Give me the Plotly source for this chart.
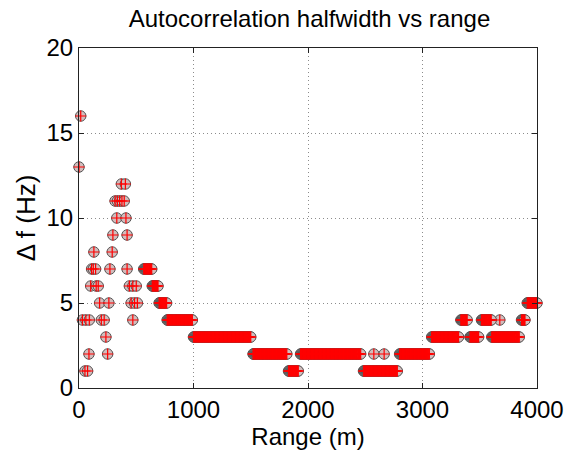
import numpy as np
import plotly.graph_objects as go

# Scattered (individually readable) points: range (m) and halfwidth (Hz)
pt_range = [0, 15, 30, 60, 90, 52, 75, 87, 250, 235, 195, 220, 470,
            180, 261, 455, 485, 510,
            102, 150, 168, 440, 470, 500,
            110, 125, 145, 270, 420,
            130, 290, 296, 420, 330, 410,
            315, 335, 355, 375, 395, 370, 405,
            2575, 2665, 3675]
pt_df = [13, 16, 4, 4, 4, 1, 1, 2, 2, 3, 4, 4, 4,
         5, 5, 5, 5, 5,
         6, 6, 6, 6, 6, 6,
         7, 7, 7, 7, 7,
         8, 8, 9, 9, 10, 10,
         11, 11, 11, 11, 11, 12, 12,
         2, 2, 4]

# Dense runs of range gates sharing one value
seg_df = [7, 6, 5, 4, 3, 2, 1, 2, 1, 2, 3, 4, 3, 4, 3, 4, 5]
seg_start = [565, 640, 700, 770, 1000, 1520, 1830, 1935, 2485, 2800, 3080, 3335, 3415, 3515, 3605, 3865, 3915]
seg_end = [635, 690, 765, 990, 1500, 1815, 1915, 2460, 2780, 3060, 3315, 3390, 3490, 3600, 3845, 3895, 4000]
gate_step = 5

xs = list(pt_range)
ys = list(pt_df)
for v, a, b in zip(seg_df, seg_start, seg_end):
    g = np.arange(a, b + 0.1, gate_step)
    xs.extend(g.tolist())
    ys.extend([v] * len(g))

font = "Liberation Sans, Arial, sans-serif"
fig = go.Figure()
fig.add_trace(go.Scatter(
    x=xs, y=ys, mode="markers", cliponaxis=False, showlegend=False,
    marker=dict(symbol="circle", size=10.5, color="#d2bcbc",
                line=dict(color="#555555", width=1))))
fig.add_trace(go.Scatter(
    x=xs, y=ys, mode="markers", cliponaxis=False, showlegend=False,
    marker=dict(symbol="cross-thin", size=8, color="red",
                line=dict(color="red", width=1.2))))

axis_common = dict(showline=True, linecolor="#222", linewidth=1, mirror="ticks",
                   ticks="inside", ticklen=5, tickcolor="#222",
                   showgrid=True, gridcolor="#8c8c8c", griddash="1px,3px", gridwidth=1,
                   zeroline=False, tickfont=dict(family=font, size=24, color="black"))

fig.update_layout(
    width=576, height=452,
    margin=dict(l=79, r=36, t=48, b=62),
    paper_bgcolor="white", plot_bgcolor="white",
    title=dict(text="Autocorrelation halfwidth vs range", x=(79 + 540) / 2 / 576,
               xanchor="center", y=1 - 19 / 452, yanchor="middle",
               font=dict(family=font, size=24, color="black")),
    xaxis=dict(range=[0, 4000], tickvals=[0, 1000, 2000, 3000, 4000],
               title=dict(text="Range (m)", font=dict(family=font, size=24, color="black"), standoff=0),
               **axis_common),
    yaxis=dict(range=[0, 20], tickvals=[0, 5, 10, 15, 20],
               title=dict(text="Δ f (Hz)", font=dict(family=font, size=26, color="black"), standoff=3),
               **axis_common),
)

fig.write_html("out.html")
